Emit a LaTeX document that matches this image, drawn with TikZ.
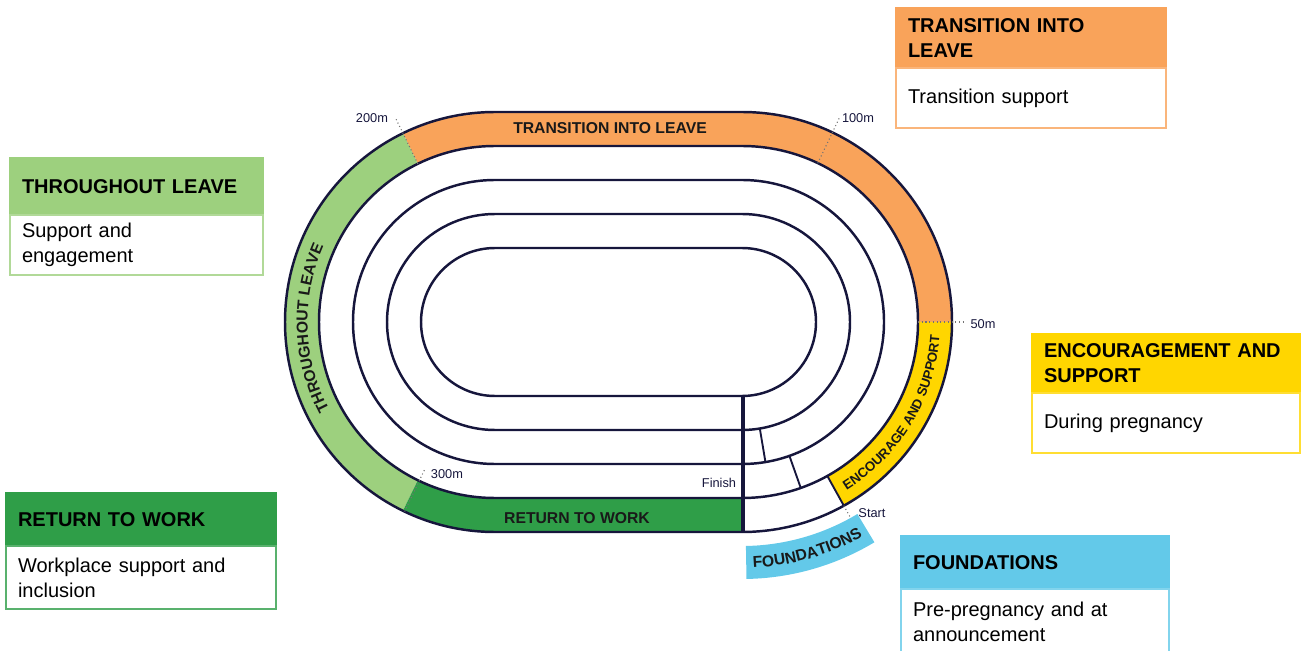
\documentclass[tikz,border=0pt]{standalone}
\usepackage{fontspec}
\setmainfont{Liberation Sans}
\usetikzlibrary{calc,decorations.text}
\newcommand{\hdfont}{\fontsize{15}{18.75}\selectfont\bfseries}
\newcommand{\bdfont}{\fontsize{15}{18.75}\selectfont}
\newcommand{\bandfont}{\fontsize{11.8}{13}\selectfont\bfseries}
\newcommand{\encfont}{\fontsize{10}{11}\selectfont\bfseries}
\newcommand{\markfont}{\fontsize{9.6}{10}\selectfont}
\tikzset{
  lane/.style={draw=navy, line width=1.85pt},
  stag/.style={draw=navy, line width=1.4pt},
  finishln/.style={draw=navy, line width=2.5pt},
  tick/.style={draw=black!55, dotted, line width=0.8pt},
  bandlbl/.style={font=\bandfont, text=black!90},
  marklbl/.style={font=\markfont, text=navy},
  hdr/.style={rectangle, anchor=north west, outer sep=0pt, inner xsep=9pt, inner ysep=0pt,
              align=left, font=\hdfont, line width=1.2pt},
  bdy/.style={hdr, fill=white, font=\bdfont},
}
\definecolor{navy}{RGB}{22,22,60}
\definecolor{orng}{RGB}{249,163,90}
\definecolor{lgrn}{RGB}{157,208,126}
\definecolor{dgrn}{RGB}{47,158,72}
\definecolor{ylw}{RGB}{255,214,0}
\definecolor{cyn}{RGB}{99,201,233}

\begin{document}
\begin{tikzpicture}[x=0.75pt,y=0.75pt]
\useasboundingbox (0,0) rectangle (1301,650);
\coordinate (L) at (495,328);
\coordinate (R) at (742,328);
% coloured sections of the outer lane
\fill[orng] ($(R)+(0:176)$) -- ($(R)+(0:210)$) arc[start angle=0,end angle=90,radius=210]
  -- ($(L)+(90:210)$) arc[start angle=90,end angle=116,radius=210]
  -- ($(L)+(116:176)$) arc[start angle=116,end angle=90,radius=176]
  -- ($(R)+(90:176)$) arc[start angle=90,end angle=0,radius=176] -- cycle;
\fill[lgrn] ($(L)+(116:176)$) -- ($(L)+(116:210)$) arc[start angle=116,end angle=244,radius=210]
  -- ($(L)+(244:176)$) arc[start angle=244,end angle=116,radius=176] -- cycle;
\fill[dgrn] ($(L)+(244:176)$) -- ($(L)+(244:210)$) arc[start angle=244,end angle=270,radius=210]
  -- (743,118) -- (743,152) -- ($(L)+(270:176)$) arc[start angle=270,end angle=244,radius=176] -- cycle;
\fill[ylw] ($(R)+(-61:176)$) -- ($(R)+(-61:210)$) arc[start angle=-61,end angle=0,radius=210]
  -- ($(R)+(0:176)$) arc[start angle=0,end angle=-61,radius=176] -- cycle;
\fill[cyn] ($(R)+(-89:224)$) -- ($(R)+(-89:257)$) arc[start angle=-89,end angle=-59,radius=257]
  -- ($(R)+(-59:224)$) arc[start angle=-59,end angle=-89,radius=224] -- cycle;
% lanes
\foreach \r in {74,108,142,176,210}
  \draw[lane] ($(L)+(0,\r)$) -- ($(R)+(0,\r)$) arc[start angle=90,end angle=-90,radius=\r]
    -- ($(L)+(0,-\r)$) arc[start angle=270,end angle=90,radius=\r] -- cycle;
\foreach \a/\ri/\ro in {-80.5/108/142,-70.5/142/176,-61/176/210}
  \draw[stag] ($(R)+(\a:\ri)$) -- ($(R)+(\a:\ro)$);
\draw[finishln] (743,254) -- (743,118);
% distance marks
\draw[tick] ($(L)+(116:176)$) -- ($(L)+(116:226)$);
\draw[tick] ($(R)+(64.5:176)$) -- ($(R)+(64.5:226)$);
\draw[tick] ($(R)+(0:176)$) -- ($(R)+(0:222)$);
\draw[tick] ($(L)+(244.5:210)$) -- ($(L)+(244.5:163)$);
\draw[tick] ($(R)+(-61:210)$) -- ($(R)+(-61:224)$);
\node[marklbl] (m200) at (372,532) {200m};
\node[marklbl] (m100) at (858,532) {100m};
\node[marklbl] (m50) at (983,326) {50m};
\node[marklbl] (m300) at (447,176) {300m};
\node[marklbl] (start) at (872,137) {Start};
\node[marklbl] (finish) at (719,167) {Finish};
% section names on the track
\node[bandlbl] (tilband) at (610,522) {TRANSITION INTO LEAVE};
\node[bandlbl] (rtwband) at (577,132) {RETURN TO WORK};
\path[decorate, decoration={text along path, text color=black!90, text align=center,
  text={|\bandfont|THROUGHOUT LEAVE}}]
  ($(L)+(214:187.5)$) arc[start angle=214,end angle=150,radius=187.5];
\path[decorate, decoration={text along path, text color=black!90, text align=center,
  text={|\encfont|ENCOURAGE AND SUPPORT}}]
  ($(R)+(-61:198)$) arc[start angle=-61,end angle=-1,radius=198];
\path[decorate, decoration={text along path, text color=black!90, text align=center,
  text={|\bandfont|FOUNDATIONS}}]
  ($(R)+(-90:246)$) arc[start angle=-90,end angle=-58,radius=246];
% info boxes
\foreach \n/\x/\y/\w/\hh/\bh/\c/\hd/\bd in {
  til/896/642/270/60/60/orng/{TRANSITION INTO\\LEAVE}/{Transition support},
  thl/10/492/253/57/60/lgrn/{THROUGHOUT LEAVE}/{Support and\\engagement},
  rtw/6/157/270/53/63/dgrn/{RETURN TO WORK}/{Workplace support and\\inclusion},
  eas/1032/316/268/59/60/ylw/{ENCOURAGEMENT AND\\SUPPORT}/{During pregnancy},
  fnd/901/114/268/53/66/cyn/{FOUNDATIONS}/{Pre-pregnancy and at\\announcement}} {
  \pgfmathsetmacro\tw{(\w-24)*0.75}
  \node[hdr, fill=\c, draw=\c, text width=\tw pt, minimum height=\hh*0.75pt] (\n h) at (\x,\y) {\hd};
  \node[bdy, draw=\c!80, text width=\tw pt, minimum height=\bh*0.75pt] (\n b) at (\n h.south west) {\bd};
}
\end{tikzpicture}
\end{document}
